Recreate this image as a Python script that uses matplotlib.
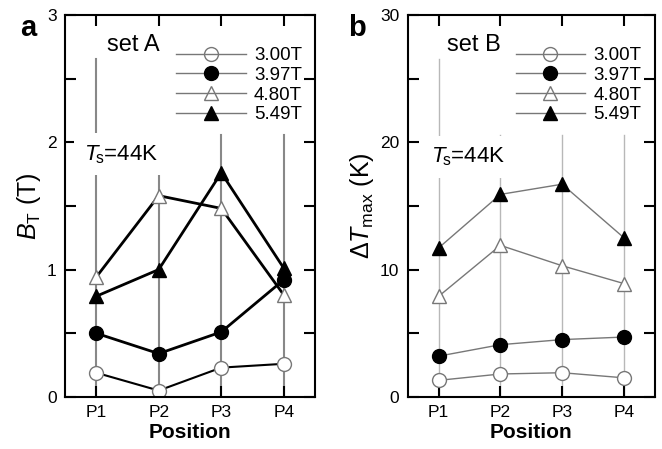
import matplotlib.pyplot as plt
from matplotlib.lines import Line2D

plt.rcParams['font.family'] = ['Liberation Sans', 'DejaVu Sans']
plt.rcParams['mathtext.fontset'] = 'custom'
plt.rcParams['mathtext.rm'] = 'Liberation Sans'
plt.rcParams['mathtext.it'] = 'Liberation Sans:italic'

positions = [1, 2, 3, 4]
pos_labels = ["P1", "P2", "P3", "P4"]
fields = ["3.00T", "3.97T", "4.80T", "5.49T"]

# panel a: B_T (T), set A
bt_300 = [0.19, 0.05, 0.23, 0.26]
bt_397 = [0.50, 0.34, 0.51, 0.92]
bt_480 = [0.94, 1.58, 1.48, 0.80]
bt_549 = [0.79, 1.00, 1.76, 1.01]

# panel b: dT_max (K), set B
dt_300 = [1.3, 1.8, 1.9, 1.5]
dt_397 = [3.2, 4.1, 4.5, 4.7]
dt_480 = [7.9, 11.9, 10.3, 8.9]
dt_549 = [11.7, 15.9, 16.7, 12.5]

markers = [('o', 'none', '#777777'), ('o', 'black', 'black'),
           ('^', 'none', '#777777'), ('^', 'black', 'black')]
# guide lines stop below the legend block (axes fraction)
guide_tops = [0.885, 0.685, 0.685, 0.685]

fig = plt.figure(figsize=(6.62, 4.49), dpi=100)
ax_a = fig.add_axes([0.098, 0.116, 0.378, 0.851])
ax_b = fig.add_axes([0.616, 0.116, 0.373, 0.851])


def setup(ax, ymax, step, set_label, set_x, ts_x, ts_y, label, lab_x, ylabel, vcol, vlw):
    for x, top in zip(positions, guide_tops):
        ax.axvline(x, ymin=0, ymax=top, color=vcol, lw=vlw, zorder=1)
    ax.set_xlim(0.5, 4.5)
    ax.set_ylim(0, ymax)
    ax.set_xticks(positions)
    ax.set_xticklabels(pos_labels)
    yt = [i * step / 2 for i in range(7)]
    ax.set_yticks(yt)
    ax.set_yticklabels([f"{v:g}" if i % 2 == 0 else "" for i, v in enumerate(yt)])
    ax.tick_params(direction='in', length=8, width=1.5, top=True, right=True,
                   labelsize=12.5, pad=6)
    for s in ax.spines.values():
        s.set_linewidth(1.5)
    ax.set_xlabel("Position", fontsize=15, fontweight='bold', labelpad=2)
    ax.set_ylabel(ylabel, fontsize=18, labelpad=3)
    ax.text(set_x, ymax * 0.905, set_label, fontsize=17, zorder=3)
    ax.text(ts_x, ts_y, r"$T_{\!\rm s}$=44K", fontsize=16, zorder=3,
            bbox=dict(facecolor='white', edgecolor='none', pad=7))
    ax.text(lab_x, 0.945, label, transform=ax.transAxes, fontsize=21, fontweight='bold')
    handles = [Line2D([], [], color='#777777', lw=1, marker=m, markersize=10,
                      markerfacecolor=fc, markeredgecolor=ec, markeredgewidth=1)
               for m, fc, ec in markers]
    leg = ax.legend(handles, fields, loc='upper right', bbox_to_anchor=(1.0, 0.95),
                    frameon=False, fontsize=13.5, handlelength=3.7, handletextpad=0.45,
                    labelspacing=0.14, borderaxespad=0.3)
    leg.set_zorder(4)


setup(ax_a, 3, 1, "set A", 1.17, 0.8, 1.86, "a", -0.18,
      r"$B_{\rm T}$ (T)", '#888888', 1.5)
setup(ax_b, 30, 10, "set B", 1.14, 0.87, 18.4, "b", -0.24,
      r"$\Delta T_{\rm max}$ (K)", '#b8b8b8', 1.0)

for ys, (m, fc, ec), lw in zip([bt_300, bt_397, bt_480, bt_549], markers, [1.5, 2, 2, 2]):
    ax_a.plot(positions, ys, color='black', lw=lw, marker=m, markersize=10,
              markerfacecolor=fc if fc != 'none' else 'white', markeredgecolor=ec,
              markeredgewidth=1, zorder=2)

for ys, (m, fc, ec) in zip([dt_300, dt_397, dt_480, dt_549], markers):
    ax_b.plot(positions, ys, color='#777777', lw=1, marker=m, markersize=10,
              markerfacecolor=fc if fc != 'none' else 'white', markeredgecolor=ec,
              markeredgewidth=1, zorder=2)

fig.savefig("out.png", dpi=100)
